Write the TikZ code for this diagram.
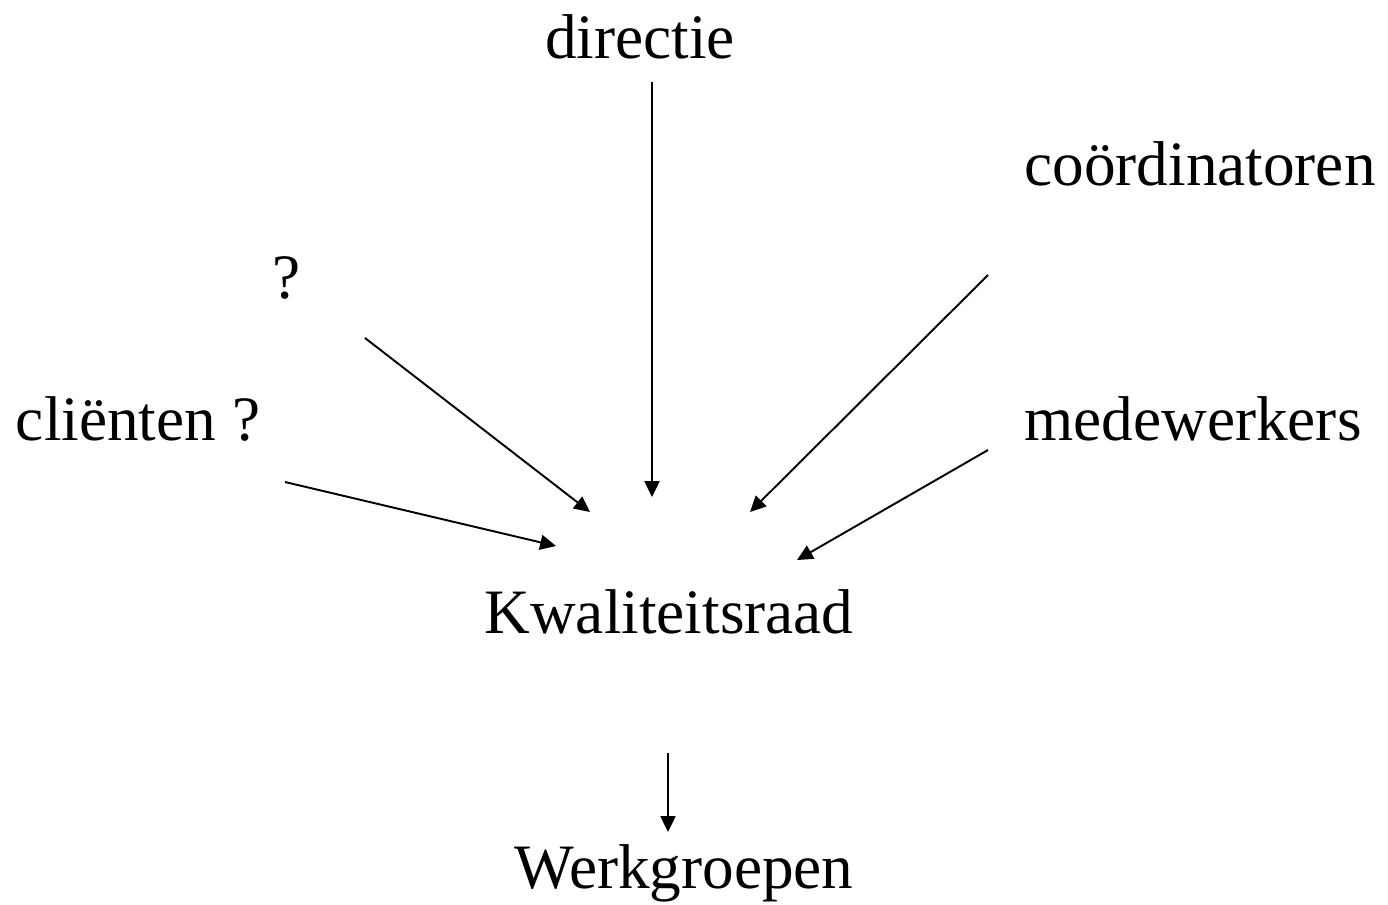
\documentclass[tikz,border=0pt]{standalone}
\usepackage{fontspec}
\setmainfont{Liberation Serif}
\usetikzlibrary{arrows.meta}
\begin{document}
\begin{tikzpicture}[x=0.02cm,y=-0.02cm,
  lbl/.style={anchor=base,inner sep=0pt,font=\fontsize{36}{40}\selectfont},
  conn/.style={line width=1.1pt,-{Triangle[length=9pt,width=8.5pt]}}]
\useasboundingbox (0,0) rectangle (1388,904);
\node[lbl] (dir) at (640,58) {directie};
\node[lbl] (coo) at (1200,185) {coördinatoren};
\node[lbl] (q) at (287,298) {?};
\node[lbl] (cli) at (138,440) {cliënten ?};
\node[lbl] (med) at (1193,440) {medewerkers};
\node[lbl] (kw) at (669,633) {Kwaliteitsraad};
\node[lbl] (wg) at (684,888) {Werkgroepen};
\coordinate (dirS) at (652,82);
\coordinate (dirE) at (652,497);
\coordinate (qS) at (365,338);
\coordinate (qE) at (590,512);
\coordinate (cliS) at (285,482);
\coordinate (cliE) at (556,546);
\coordinate (cooS) at (988,275);
\coordinate (cooE) at (750,512);
\coordinate (medS) at (988,450);
\coordinate (medE) at (797,560);
\coordinate (kwS) at (668,753);
\coordinate (kwE) at (668,832);
\draw[conn] (dirS) -- (dirE);
\draw[conn] (qS) -- (qE);
\draw[conn] (cliS) -- (cliE);
\draw[conn] (cooS) -- (cooE);
\draw[conn] (medS) -- (medE);
\draw[conn] (kwS) -- (kwE);
\end{tikzpicture}
\end{document}
